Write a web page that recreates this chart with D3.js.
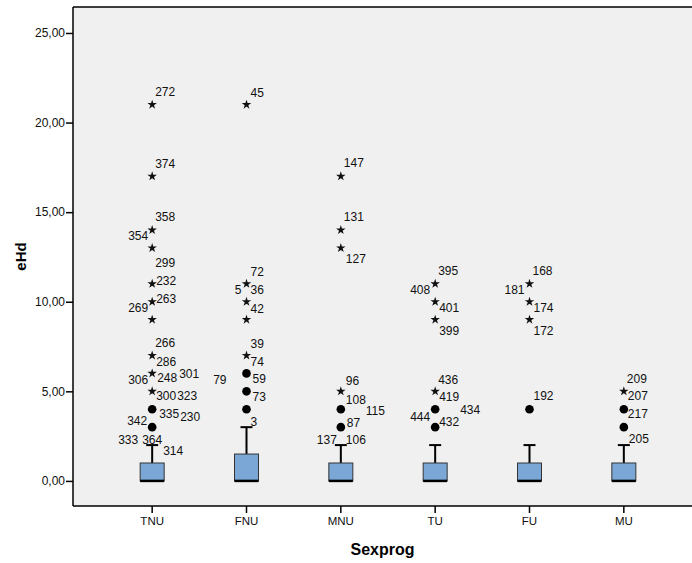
<!DOCTYPE html>
<html>
<head>
<meta charset="utf-8">
<script src="https://d3js.org/d3.v7.min.js"></script>
<style>
  body { margin: 0; background: #fff; }
  svg { font-family: "Liberation Sans", Arial, sans-serif; }
</style>
</head>
<body>
<svg id="chart" width="692" height="563"></svg>
<script>
// Box statistics per group
var categories = ["TNU", "FNU", "MNU", "TU", "FU", "MU"];
var q1 =        [0, 0,   0, 0, 0, 0];
var median =    [0, 0,   0, 0, 0, 0];
var q3 =        [1, 1.5, 1, 1, 1, 1];
var whiskerLo = [0, 0,   0, 0, 0, 0];
var whiskerHi = [2, 3,   2, 2, 2, 2];
var yTicks = [0, 5, 10, 15, 20, 25];

// outliers: group, value, kind ("o" = outlier, "x" = extreme), case labels
var outliers = [
  ["TNU", 21, "x", [272]], ["TNU", 17, "x", [374]], ["TNU", 14, "x", [358, 354]],
  ["TNU", 13, "x", [299]], ["TNU", 11, "x", [232]], ["TNU", 10, "x", [263, 269]],
  ["TNU", 9, "x", []], ["TNU", 7, "x", [266, 286]], ["TNU", 6, "x", [306, 248, 301]],
  ["TNU", 5, "x", [300, 323]], ["TNU", 4, "o", [335, 230]], ["TNU", 3, "o", [342, 333, 364, 314]],
  ["FNU", 21, "x", [45]], ["FNU", 11, "x", [72, 5, 36]], ["FNU", 10, "x", [42]],
  ["FNU", 9, "x", []], ["FNU", 7, "x", [39, 74]], ["FNU", 6, "o", [59, 79]],
  ["FNU", 5, "o", [73]], ["FNU", 4, "o", [3]],
  ["MNU", 17, "x", [147]], ["MNU", 14, "x", [131]], ["MNU", 13, "x", [127]],
  ["MNU", 5, "x", [96, 108]], ["MNU", 4, "o", [115]], ["MNU", 3, "o", [87, 137, 106]],
  ["TU", 11, "x", [395, 408]], ["TU", 10, "x", [401]], ["TU", 9, "x", [399]],
  ["TU", 5, "x", [436, 419]], ["TU", 4, "o", [444, 434]], ["TU", 3, "o", [432]],
  ["FU", 11, "x", [168, 181]], ["FU", 10, "x", [174]], ["FU", 9, "x", [172]],
  ["FU", 4, "o", [192]],
  ["MU", 5, "x", [209, 207]], ["MU", 4, "o", [217]], ["MU", 3, "o", [205]]
];

// label placement next to its marker: [anchor, dx, dy]
var labelSpot = {
  272: ["s", 3, -13], 374: ["s", 3, -13], 358: ["s", 3, -13], 354: ["e", -4, 6],
  299: ["s", 3, 15], 232: ["s", 4, -3], 263: ["s", 4, -3], 269: ["e", -4, 6],
  266: ["s", 3, -13], 286: ["s", 4, 6], 306: ["e", -4, 6], 248: ["s", 5, 4],
  301: ["s", 27, 0], 300: ["s", 4, 4], 323: ["s", 25, 4], 335: ["s", 7, 4],
  230: ["s", 28, 7], 342: ["e", -5, -6], 333: ["e", -14, 13], 364: ["s", -10, 13],
  314: ["s", 11, 24],
  45: ["s", 4, -12], 72: ["s", 4, -12], 5: ["e", -5, 6], 36: ["s", 4, 6],
  42: ["s", 4, 7], 39: ["s", 4, -12], 74: ["s", 4, 6], 59: ["s", 6, 5],
  79: ["e", -20, 6], 73: ["s", 6, 5], 3: ["s", 4, 12],
  147: ["s", 3, -14], 131: ["s", 3, -13], 127: ["s", 5, 11], 96: ["s", 5, -11],
  108: ["s", 5, 8], 115: ["s", 25, 1], 87: ["s", 6, -4], 137: ["e", -4, 13],
  106: ["s", 5, 13],
  395: ["s", 3, -13], 408: ["e", -5, 6], 401: ["s", 4, 6], 399: ["s", 4, 11],
  436: ["s", 3, -12], 419: ["s", 4, 5], 444: ["e", -5, 7], 434: ["s", 25, 0],
  432: ["s", 4, -5],
  168: ["s", 3, -13], 181: ["e", -5, 6], 174: ["s", 4, 6], 172: ["s", 4, 11],
  192: ["s", 4, -14],
  209: ["s", 3, -13], 207: ["s", 4, 4], 217: ["s", 4, 4], 205: ["s", 5, 12]
};

var svg = d3.select("#chart");
var plotL = 73, plotR = 692, plotT = 7, plotB = 506;

var x = d3.scaleBand().domain(categories).range([105, 671]);
var y = d3.scaleLinear().domain([-1.4, 26.45]).range([plotB, plotT]);
var cx = function(c) { return x(c) + x.bandwidth() / 2; };

var comma = d3.formatLocale({ decimal: ",", thousands: ".", grouping: [3], currency: ["", ""] }).format(".2f");

// plot background
svg.append("rect").attr("x", plotL).attr("y", plotT)
  .attr("width", plotR - plotL).attr("height", plotB - plotT).attr("fill", "#f0f0f0");

// y axis
var ya = svg.append("g").attr("transform", "translate(" + plotL + ",0)")
  .call(d3.axisLeft(y).tickValues(yTicks).tickFormat(comma).tickSize(7).tickSizeOuter(0).tickPadding(1));
ya.select(".domain").remove();
ya.selectAll(".tick line").attr("stroke-width", 1.5);
ya.selectAll("text").attr("font-size", 12).attr("fill", "#111");

// x axis
var xa = svg.append("g").attr("transform", "translate(0," + plotB + ")")
  .call(d3.axisBottom(x).tickSize(7).tickSizeOuter(0).tickPadding(4));
xa.select(".domain").remove();
xa.selectAll(".tick line").attr("stroke-width", 1.5);
xa.selectAll("text").attr("font-size", 11.5).attr("fill", "#111");

// frame lines
svg.append("line").attr("x1", plotL).attr("x2", plotL).attr("y1", plotT).attr("y2", plotB)
  .attr("stroke", "#000").attr("stroke-width", 1.5);
svg.append("line").attr("x1", plotL).attr("x2", plotR).attr("y1", plotB).attr("y2", plotB)
  .attr("stroke", "#000").attr("stroke-width", 1.5);
svg.append("line").attr("x1", plotL).attr("x2", plotR).attr("y1", plotT).attr("y2", plotT)
  .attr("stroke", "#000").attr("stroke-width", 1.5);

// boxes
var g = svg.append("g");
categories.forEach(function(c, i) {
  var mx = cx(c), bw = 24, cap = 6;
  g.append("line").attr("x1", mx).attr("x2", mx)
    .attr("y1", y(q3[i])).attr("y2", y(whiskerHi[i])).attr("stroke", "#000").attr("stroke-width", 2);
  g.append("line").attr("x1", mx - cap).attr("x2", mx + cap)
    .attr("y1", y(whiskerHi[i])).attr("y2", y(whiskerHi[i])).attr("stroke", "#000").attr("stroke-width", 2);
  g.append("line").attr("x1", mx).attr("x2", mx)
    .attr("y1", y(q1[i])).attr("y2", y(whiskerLo[i])).attr("stroke", "#000").attr("stroke-width", 2);
  g.append("rect").attr("x", mx - bw / 2).attr("y", y(q3[i]))
    .attr("width", bw).attr("height", y(q1[i]) - y(q3[i]))
    .attr("fill", "#7aa7d5").attr("stroke", "#333").attr("stroke-width", 1);
  g.append("line").attr("x1", mx - bw / 2).attr("x2", mx + bw / 2)
    .attr("y1", y(median[i])).attr("y2", y(median[i])).attr("stroke", "#000").attr("stroke-width", 2.5);
});

// outlier markers and case labels
var star = d3.symbol().type(d3.symbolStar).size(28);
outliers.forEach(function(o) {
  var px = cx(o[0]), py = y(o[1]);
  if (o[2] === "o") {
    svg.append("circle").attr("cx", px).attr("cy", py).attr("r", 4.3).attr("fill", "#000");
  } else {
    svg.append("path").attr("d", star).attr("transform", "translate(" + px + "," + py + ")").attr("fill", "#111");
  }
  o[3].forEach(function(id) {
    var s = labelSpot[id] || ["s", 4, 5];
    svg.append("text")
      .attr("x", px + s[1]).attr("y", py + s[2] + 4.3)
      .attr("text-anchor", s[0] === "e" ? "end" : "start")
      .attr("font-size", 12).attr("fill", "#111")
      .text(id);
  });
});

// axis titles
svg.append("text").attr("x", (plotL + plotR) / 2).attr("y", 555)
  .attr("text-anchor", "middle").attr("font-size", 16).attr("font-weight", "bold").text("Sexprog");
svg.append("text").attr("transform", "translate(26," + (plotT + plotB) / 2 + ") rotate(-90)")
  .attr("text-anchor", "middle").attr("font-size", 15).attr("font-weight", "bold").text("eHd");
</script>
</body>
</html>
